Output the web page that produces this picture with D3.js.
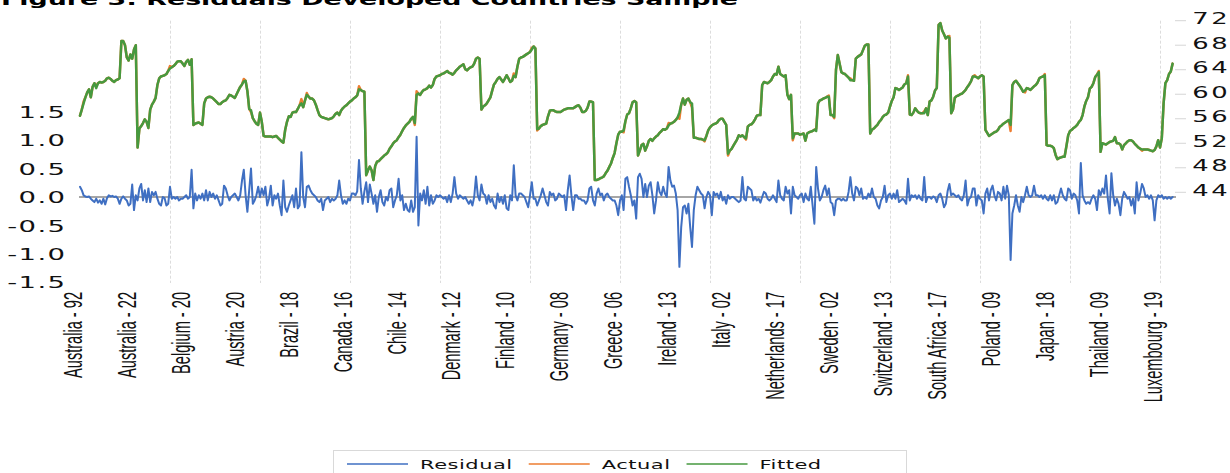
<!DOCTYPE html>
<html>
<head>
<meta charset="utf-8">
<script src="https://cdn.jsdelivr.net/npm/d3@7/dist/d3.min.js"></script>
<style>
  html, body { margin: 0; padding: 0; background: #ffffff; }
  svg { display: block; }
</style>
</head>
<body>
<svg id="chart" width="1230" height="473"></svg>
<script>
// ---------------------------------------------------------------
// Data: panel observations (country - year), one value per observation
// ---------------------------------------------------------------
const titleText = "Figure 3: Residuals Developed Countries Sample";

// category labels shown every 30 observations
const tickLabels = [
  "Australia - 92", "Australia - 22", "Belgium - 20", "Austria - 20", "Brazil - 18",
  "Canada - 16", "Chile - 14", "Denmark - 12", "Finland - 10", "Germany - 08",
  "Greece - 06", "Ireland - 13", "Italy - 02", "Netherlands - 17", "Sweden - 02",
  "Switzerland - 13", "South Africa - 17", "Poland - 09", "Japan - 18", "Thailand - 09",
  "Luxembourg - 19"
];
const labelStep = 30;
const gridStep = 50;

const seriesNames = ["Residual", "Actual", "Fitted"];
const seriesColors = ["#3f6fc2", "#ed7d31", "#46993f"];

const leftTicks = [-1.5, -1.0, -0.5, 0.0, 0.5, 1.0, 1.5];
const rightTicks = [44, 48, 52, 56, 60, 64, 68, 72];

const residual = [
  0.18, 0.12, 0.03, 0.01, 0.0, 0.01, -0.03, -0.06, -0.09, -0.03,
  -0.1, -0.06, -0.12, -0.03, -0.13, -0.02, 0.03, 0.01, 0.02, 0.0,
  0.01, -0.03, -0.12, -0.03, 0.01, -0.03, -0.06, -0.15, -0.12, 0.22,
  -0.23, 0.03,
  -0.06, 0.15, 0.23, -0.06, 0.12, -0.09, 0.15, -0.09, 0.09, 0.03,
  0.09, -0.03, -0.12, -0.15, 0.0, -0.02, -0.15, -0.12, 0.18, -0.03,
  0.0, -0.03, 0.0, -0.06, -0.03, -0.03, 0.0, 0.03, -0.03, 0.0, 0.48,
  -0.2, 0.06, -0.06, 0.03, -0.03, 0.06, -0.06, 0.12, -0.06, 0.09,
  0.0, 0.06, -0.03, 0.03, -0.06, -0.15, -0.12, 0.2, 0.15, 0.03,
  -0.06, 0.0, 0.03, 0.06, 0.0, -0.06, 0.03, 0.29, 0.48, 0.03,
  -0.26, 0.12, 0.5, -0.12, -0.06, 0.03, 0.18, 0.0, 0.15, 0.03,
  0.18, -0.15, -0.03, 0.2, -0.15, 0.03, -0.03, 0.06, -0.15, -0.32,
  0.29, -0.18, -0.26, -0.15, -0.06, 0.03, -0.18, 0.15, -0.2, -0.15,
  0.79, 0.0, -0.18, 0.18, 0.2, 0.12, 0.06, 0.03, 0.0, -0.06,
  -0.09, -0.03, -0.23, -0.06, -0.03, 0.0, -0.09, -0.03, -0.06, -0.03,
  0.03, 0.29, 0.03, -0.12, -0.06, -0.12, -0.03, -0.06, 0.06, 0.06,
  0.03, 0.1,
  0.65, 0.15, -0.12, 0.1, 0.26, -0.09, 0.22, 0.06, -0.12, 0.03,
  -0.26, 0.0, 0.12, -0.09, -0.15, 0.0, -0.06, 0.12, 0.15, -0.18,
  -0.06, 0.03, 0.32, -0.06, 0.03, -0.23, -0.12, -0.23, -0.26, -0.06,
  -0.26, -0.18, 1.06, -0.5, 0.06, -0.06, 0.12, -0.12, 0.18, -0.15,
  0.03, -0.12, -0.06, 0.03, 0.0, 0.03, 0.0, -0.03, 0.0, -0.09,
  0.03, -0.09, 0.06, 0.35, 0.06, -0.03, 0.03, 0.0, -0.03, 0.0,
  -0.06, -0.12, -0.06, -0.15, 0.0, 0.36, 0.03, -0.06, 0.22, 0.06,
  0.03, -0.12, 0.03, -0.09, -0.03, -0.15, -0.2, 0.06, -0.09, 0.0,
  -0.12, 0.03, -0.2, -0.23, 0.03, -0.06, 0.56, 0.03, -0.06, 0.06,
  0.06, 0.03, 0.0, -0.09, -0.18, 0.03, 0.26, -0.03, -0.03, -0.15,
  -0.06, 0.03, 0.15, 0.03, -0.09, -0.15, 0.09, 0.03, 0.06, -0.06,
  -0.03, 0.06, 0.03, 0.0, 0.03, -0.23, 0.12, 0.38, 0.03, -0.23,
  0.03, 0.03, -0.03, -0.03, -0.06, -0.06, -0.12, -0.06, 0.15, 0.18,
  -0.06, -0.15, 0.06, 0.15, 0.03, 0.06, -0.06, 0.03, 0.06, 0.0,
  -0.03, -0.06, -0.06, -0.15, -0.32, -0.06, 0.03, -0.23, 0.32,
  0.35, 0.18, 0.03, -0.15, -0.06, -0.38,
  0.35, 0.41, 0.32, 0.0, 0.23, 0.0, 0.2, 0.26, 0.03, -0.29,
  -0.06, 0.26, 0.09, 0.03, 0.18, 0.06, 0.0, 0.53, 0.29, 0.18,
  0.2, 0.06, -0.23, -1.23, -0.53, -0.18, -0.15, -0.29, -0.12, -0.53,
  -0.88, -0.23, 0.03, 0.18, 0.12, 0.06, 0.03, -0.2, 0.0, 0.09,
  0.03, -0.32, 0.09, 0.03, 0.06, -0.03, 0.09, -0.06, 0.0, -0.12,
  0.03, -0.03, 0.0, 0.0, -0.03, -0.06, -0.09, -0.06, 0.35, -0.03,
  -0.06, 0.18, 0.15, 0.12, -0.06, 0.0, -0.06, -0.03, -0.1, 0.0,
  0.09, 0.06, -0.03, -0.06, -0.03, 0.03, -0.03, -0.09, 0.29, 0.03,
  -0.03, -0.06, 0.18, 0.06, 0.12, -0.29, 0.18, 0.03, 0.0, -0.03,
  0.03, 0.06, -0.09, 0.06, -0.03, -0.06, 0.18, -0.15, -0.47, 0.53,
  0.15, -0.06, 0.0, 0.12, 0.2, 0.03, 0.15, -0.09, -0.12, -0.32,
  -0.06, -0.03, -0.03, -0.06, -0.03, -0.06, -0.06, 0.09, 0.35, 0.06,
  -0.06, 0.18, 0.15, 0.03, 0.15, -0.03, 0.0, -0.03, 0.06, 0.0,
  0.15, 0.0, -0.03, -0.15, -0.2, -0.06, 0.0, 0.2, -0.09, 0.03,
  0.06, -0.03, 0.06, -0.03, 0.12, -0.09, -0.06, -0.03, -0.06,
  -0.12, 0.32, -0.06, 0.03, 0.0, 0.03, -0.03, 0.03, -0.03, -0.06,
  0.35, -0.09, 0.0, 0.0, -0.03, 0.01, -0.01, -0.09, 0.03, 0.06,
  -0.03, -0.18, -0.12, 0.1, 0.23, 0.03, 0.06, 0.03, 0.0, 0.03,
  -0.03, -0.06, 0.03, 0.29, -0.15, -0.03, 0.0, 0.15, 0.15, -0.15,
  0.03, -0.03, -0.06, -0.29, 0.06, 0.15, -0.06, 0.12, 0.2, 0.03,
  -0.06, 0.09, 0.06, -0.06, 0.18, -0.03, 0.2, 0.03, -1.11, -0.29,
  -0.15, 0.03, -0.15, -0.26, 0.0, -0.09, 0.03, 0.18, 0.03, 0.0,
  0.03, 0.2, 0.03, 0.03, 0.0, 0.03, -0.03, 0.03, -0.03, -0.06,
  0.03, -0.06, 0.03, -0.12, -0.09, 0.03, 0.15, 0.03, -0.03, -0.06,
  0.15, 0.12, -0.03, 0.06, 0.03, -0.06, -0.29, 0.6, 0.03, -0.06,
  -0.12, -0.09, -0.12, -0.03, 0.03, -0.03, -0.23, 0.12, 0.03, 0.15,
  0.06, 0.38, -0.03, -0.29, 0.42, 0.03, -0.15, -0.03, -0.12, -0.32,
  -0.03, 0.09, 0.03, -0.03, 0.0, -0.15, -0.03, -0.29, 0.26, -0.06,
  0.06, 0.23, 0.15, 0.0, 0.03, -0.03, 0.03, -0.06, -0.41, -0.06,
  0.03, 0.0, 0.03, -0.03, 0.0, -0.03, 0.0, -0.03, 0.0
];

const fitted = [
  56.5, 57.5, 58.5, 59.5, 60.3, 60.8, 59.5, 61.2, 61.8, 61.0,
  61.8, 62.0, 61.9, 62.0, 62.2, 62.6, 62.7, 62.5, 62.2, 62.0,
  62.3, 62.4, 62.6, 68.7, 68.7, 68.0, 66.0, 65.5, 66.5, 65.8,
  67.3, 68.0,
  51.3, 54.4, 54.8, 55.3, 55.9, 55.5, 54.5, 57.5, 58.3, 58.8,
  59.4, 61.5, 62.6, 62.9, 63.0, 63.1, 63.3, 63.8, 64.2, 64.4,
  64.6, 64.9, 65.3, 65.4, 65.4, 65.0, 64.6, 65.3, 65.6, 64.8, 65.7,
  55.0, 55.2, 55.3, 55.4, 55.2, 55.0, 58.5, 59.3, 59.5, 59.6,
  59.5, 59.3, 59.0, 58.7, 58.4, 58.4, 58.7, 58.9, 59.0, 59.4,
  59.9, 59.8, 59.6, 59.4, 60.0, 60.6, 61.2, 61.6, 62.1, 62.2,
  60.5, 57.6, 57.4, 56.1, 55.6, 55.2, 55.0, 57.0, 55.5, 53.2,
  53.1, 53.1, 53.1, 53.1, 53.0, 53.1, 53.2, 52.9, 52.6, 52.3,
  52.1, 54.2, 55.5, 56.4, 56.3, 57.0, 57.1, 57.1, 57.6, 58.2,
  58.5, 57.9, 59.0, 59.9, 59.6, 59.3, 59.3, 59.0, 58.3, 57.4,
  56.6, 56.3, 56.2, 56.1, 56.0, 55.9, 56.0, 56.1, 56.4, 56.8,
  57.0, 56.6, 57.3, 57.7, 58.0, 58.2, 58.5, 58.8, 59.0, 59.3,
  59.5, 59.8,
  60.8, 60.7, 60.5, 60.4, 46.8, 47.6, 48.2, 47.6, 46.0, 48.3,
  49.0, 49.1, 49.4, 49.7, 50.0, 50.2, 50.5, 51.1, 51.5, 52.0,
  52.3, 52.5, 53.0, 53.4, 54.0, 54.5, 54.9, 55.2, 55.5, 56.0,
  56.3, 55.3, 59.9, 60.1, 59.9, 60.4, 60.7, 60.8, 61.0, 61.4,
  61.1, 61.5, 62.5, 62.9, 63.0, 63.1, 63.3, 63.4, 63.6, 63.8,
  63.5, 63.4, 63.2, 63.5, 63.9, 64.2, 64.5, 64.7, 64.9, 64.1,
  63.9, 64.2, 64.4, 64.5, 65.0, 65.8, 66.0, 65.8, 57.5, 58.0,
  58.2, 58.5, 59.0, 59.5, 60.6, 61.6, 62.0, 62.5, 62.8, 62.4,
  62.0, 62.5, 63.1, 62.6, 62.0, 62.2, 63.0, 62.8, 64.5, 65.8,
  66.0, 66.1, 66.3, 66.5, 66.7, 66.9, 67.3, 67.8, 67.5, 54.3,
  54.4, 54.8, 55.0, 55.1, 55.2, 56.4, 57.3, 57.4, 57.4, 57.2,
  57.1, 57.1, 57.1, 57.3, 57.5, 57.6, 57.7, 57.7, 57.7, 57.7,
  57.9, 58.1, 58.2, 57.8, 57.1, 57.1, 57.3, 57.8, 58.8, 58.8,
  58.7, 46.0, 46.0, 46.1, 46.3, 46.4, 46.6, 47.1, 47.5, 48.1,
  48.7, 49.6, 50.4, 52.0, 53.4, 53.9, 53.9, 54.1, 55.6,
  56.7, 56.9, 57.7, 58.7, 58.9, 58.7,
  50.0, 50.8, 51.7, 51.9, 50.8, 51.5, 52.4, 52.7, 52.4, 52.8,
  53.1, 53.3, 53.7, 54.0, 54.3, 54.2, 54.4, 54.9, 55.2, 55.3,
  55.5, 55.8, 56.2, 57.0, 58.3, 59.3, 58.3, 59.1, 59.3, 58.7,
  58.5, 52.9, 52.9, 52.8, 52.7, 52.7, 52.6, 52.5, 53.2, 54.1,
  54.6, 54.9, 55.1, 55.2, 55.4, 55.8, 56.0, 56.0, 55.5, 55.0,
  50.3, 50.8, 51.1, 51.6, 52.1, 52.6, 53.3, 53.1, 53.3, 53.0,
  52.8, 54.7, 55.0, 55.1, 55.4, 55.9, 56.5, 56.6, 56.6, 61.5,
  62.0, 61.9, 61.8, 62.0, 62.3, 62.9, 63.3, 63.2, 64.5, 63.3,
  63.1, 62.9, 63.1, 59.9, 59.2, 59.9, 52.8, 53.6, 53.6, 53.6,
  53.4, 53.5, 53.6, 52.4, 53.6, 53.8, 53.9, 54.0, 54.2, 54.0,
  58.5, 59.0, 59.1, 59.3, 59.4, 59.6, 59.6, 56.6, 56.6, 56.3,
  64.0, 66.4, 65.0, 63.6, 63.4, 63.3, 63.0, 62.7, 62.3, 62.3,
  62.2, 65.8, 66.1, 66.3, 66.5, 67.2, 67.9, 68.1, 68.1, 53.6,
  54.2, 54.4, 54.7, 55.0, 55.5, 55.8, 56.3, 56.6, 56.7, 57.0,
  58.0, 58.9, 59.5, 61.0, 60.9, 60.7, 60.9, 61.1, 61.6,
  61.8, 62.9, 56.7, 56.6, 57.0, 57.7, 57.3, 57.0, 56.9, 56.9,
  56.9, 57.7, 56.6, 58.8, 59.0, 59.6, 60.6, 61.0, 71.3, 71.6,
  70.4, 69.8, 69.1, 69.4, 69.2, 56.9, 57.5, 59.4, 59.7, 59.8,
  60.0, 60.1, 60.4, 60.7, 61.2, 61.6, 62.1, 62.9, 62.9, 62.8,
  62.6, 62.9, 63.1, 62.9, 54.2, 53.7, 53.2, 53.4, 53.6, 53.8,
  53.9, 54.2, 54.7, 54.9, 55.2, 55.4, 55.6, 55.8, 55.0, 61.5,
  62.0, 62.2, 61.8, 61.4, 60.9, 60.4, 60.6, 61.0, 60.9, 60.7,
  61.0, 61.3, 61.5, 61.9, 62.6, 62.8, 62.9, 63.1, 51.7, 51.6,
  51.6, 51.5, 51.2, 50.1, 49.4, 49.6, 49.7, 49.8, 49.8, 51.5,
  53.3, 54.0, 54.2, 54.5, 54.7, 55.0, 55.5, 55.8, 56.6, 58.0,
  58.9, 59.5, 60.9, 61.2, 61.8, 62.8, 63.2, 63.6, 50.6, 52.0,
  51.9, 51.8, 52.0, 52.2, 52.3, 52.4, 53.0, 52.0, 52.0, 51.8,
  51.0, 51.7, 52.0, 52.3, 52.5, 52.5, 52.3, 51.9, 51.6, 51.3,
  51.1, 51.0, 51.0, 51.0, 51.0, 50.9, 50.8, 50.7, 50.9, 51.5,
  52.5, 51.3, 52.8, 58.5, 61.8, 62.3, 63.3, 63.7, 65.0
];

const actual = [
  56.5, 57.5, 58.8, 59.5, 60.3, 60.8, 59.5, 61.2, 61.8, 61.3,
  61.8, 62.0, 61.9, 62.0, 62.2, 62.6, 62.7, 62.5, 62.2, 62.0,
  62.3, 62.4, 62.6, 68.7, 68.7, 68.0, 66.0, 65.5, 66.5, 65.8,
  67.3, 68.0,
  51.3, 54.4, 54.8, 55.3, 55.9, 55.5, 54.5, 57.5, 58.3, 58.8,
  59.4, 61.5, 62.6, 62.9, 63.0, 63.1, 63.3, 63.8, 64.6, 64.4,
  64.6, 64.9, 65.3, 65.4, 65.4, 65.0, 64.6, 65.3, 65.6, 64.8, 65.7,
  55.0, 55.2, 55.3, 55.4, 55.2, 55.0, 58.5, 59.3, 59.5, 59.6,
  59.5, 59.3, 59.0, 58.7, 58.4, 58.4, 58.7, 58.9, 59.0, 59.4,
  59.9, 59.8, 59.6, 59.4, 60.0, 60.6, 61.2, 61.6, 62.5, 62.2,
  60.5, 57.6, 57.1, 56.1, 55.6, 55.2, 55.0, 57.0, 55.5, 53.2,
  53.1, 53.1, 53.1, 53.1, 53.0, 53.1, 53.2, 52.9, 52.6, 52.3,
  52.1, 54.2, 55.5, 56.4, 56.3, 57.0, 57.1, 57.1, 57.6, 58.2,
  59.2, 57.9, 59.0, 60.2, 59.6, 59.3, 59.3, 59.0, 58.3, 57.4,
  56.6, 56.3, 56.2, 56.1, 56.0, 55.9, 56.0, 56.1, 56.4, 56.8,
  57.0, 56.6, 57.3, 57.7, 58.0, 58.2, 58.5, 58.8, 59.0, 59.3,
  59.5, 59.8,
  61.3, 60.7, 60.5, 60.4, 46.8, 47.6, 48.2, 47.6, 46.0, 48.3,
  49.0, 49.1, 49.4, 49.7, 50.0, 50.2, 50.5, 51.1, 51.5, 52.0,
  52.3, 52.5, 53.0, 53.4, 54.0, 54.5, 54.9, 55.2, 55.5, 56.0,
  56.3, 55.0, 60.5, 60.1, 59.9, 60.4, 60.7, 60.8, 61.0, 61.4,
  61.1, 61.5, 62.5, 62.9, 63.0, 63.1, 63.3, 63.4, 63.6, 63.8,
  63.5, 63.4, 63.2, 63.5, 63.9, 64.2, 64.5, 64.7, 64.9, 64.1,
  63.9, 64.2, 64.4, 64.5, 65.0, 65.8, 66.0, 65.8, 57.5, 58.0,
  58.2, 58.5, 59.0, 59.5, 60.6, 61.6, 62.0, 62.5, 62.8, 62.4,
  62.0, 62.5, 63.1, 62.6, 62.0, 62.2, 63.4, 62.8, 64.5, 65.8,
  66.0, 66.1, 66.3, 66.5, 66.7, 66.9, 67.6, 67.8, 67.5, 54.1,
  54.4, 54.8, 55.0, 55.1, 55.2, 56.4, 57.3, 57.4, 57.4, 57.2,
  57.1, 57.1, 57.1, 57.3, 57.5, 57.6, 57.7, 57.7, 57.7, 57.7,
  57.9, 58.1, 58.2, 57.8, 57.1, 57.1, 57.3, 57.8, 58.8, 58.8,
  58.7, 46.0, 46.0, 46.1, 46.3, 46.4, 46.6, 47.1, 47.5, 48.1,
  48.7, 49.6, 50.4, 52.0, 53.4, 53.9, 53.9, 53.8, 55.6,
  56.7, 56.9, 57.7, 58.7, 58.9, 58.7,
  50.0, 50.8, 51.7, 51.9, 50.8, 51.5, 52.4, 52.7, 52.4, 52.8,
  53.1, 53.3, 53.7, 54.0, 54.3, 54.2, 54.4, 55.3, 55.2, 55.3,
  55.5, 55.8, 56.2, 56.0, 58.3, 59.3, 58.3, 59.1, 59.3, 58.7,
  57.8, 52.9, 52.9, 52.8, 52.7, 52.7, 52.6, 52.3, 53.2, 54.1,
  54.6, 54.9, 55.1, 55.2, 55.4, 55.8, 56.0, 56.0, 55.5, 55.0,
  50.0, 50.8, 51.1, 51.6, 52.1, 52.6, 53.3, 53.1, 53.3, 53.0,
  52.6, 54.7, 55.0, 55.1, 55.4, 55.9, 56.5, 56.6, 56.6, 61.5,
  62.0, 61.9, 61.8, 62.0, 62.3, 62.9, 63.3, 63.2, 64.5, 63.3,
  63.1, 62.9, 63.1, 59.9, 59.2, 59.9, 52.5, 53.6, 53.6, 53.6,
  53.4, 53.5, 53.6, 52.4, 53.6, 53.8, 53.9, 54.0, 54.2, 54.4,
  58.5, 59.0, 59.1, 59.3, 59.4, 59.6, 59.8, 56.6, 56.6, 56.1,
  64.0, 66.4, 65.0, 63.6, 63.4, 63.3, 63.0, 62.7, 62.6, 62.3,
  62.2, 65.8, 66.1, 66.3, 66.5, 67.2, 67.9, 68.1, 68.1, 53.6,
  54.2, 54.4, 54.7, 55.0, 55.5, 55.8, 56.3, 56.6, 56.7, 57.0,
  58.0, 58.9, 59.5, 61.0, 60.9, 60.7, 60.9, 61.1, 61.6,
  61.8, 63.1, 56.7, 56.6, 57.0, 57.7, 57.3, 57.0, 56.9, 56.9,
  57.2, 57.7, 56.6, 58.8, 59.0, 59.6, 60.6, 61.0, 71.3, 71.6,
  70.4, 69.8, 69.1, 69.4, 69.5, 56.9, 57.5, 59.4, 59.7, 59.8,
  60.0, 60.1, 60.4, 60.7, 61.2, 61.6, 62.1, 62.9, 63.1, 62.8,
  62.6, 62.9, 63.1, 62.9, 54.2, 53.7, 53.2, 53.4, 53.6, 53.8,
  53.9, 54.2, 54.7, 54.9, 55.2, 55.4, 55.6, 55.8, 54.0, 61.5,
  62.0, 62.2, 61.8, 61.4, 60.9, 60.4, 60.3, 61.0, 60.9, 60.7,
  61.0, 61.3, 61.5, 61.9, 62.6, 62.8, 62.9, 63.3, 51.7, 51.6,
  51.6, 51.5, 51.2, 50.1, 49.4, 49.6, 49.7, 49.8, 49.8, 51.5,
  53.3, 54.0, 54.2, 54.5, 54.7, 55.0, 55.5, 55.8, 56.6, 58.0,
  58.9, 59.5, 60.9, 61.2, 61.8, 62.8, 63.2, 63.8, 50.6, 52.0,
  51.9, 51.8, 52.0, 52.2, 52.3, 52.4, 53.0, 52.0, 52.0, 51.8,
  51.0, 51.7, 52.0, 52.3, 52.5, 52.5, 52.3, 51.9, 51.6, 51.3,
  51.1, 50.8, 51.0, 51.0, 51.0, 50.9, 50.8, 50.7, 50.9, 51.5,
  52.5, 51.3, 52.8, 58.5, 61.8, 62.3, 63.3, 63.7, 65.0
];

// ---------------------------------------------------------------
// Layout
// ---------------------------------------------------------------
const svg = d3.select("#chart");
const W = 1230, H = 473;
const plot = { left: 80, right: 1172.6, top: 20.7, bottom: 283 };
const stretch = 1.72;           // horizontal text stretch used throughout
const n = fitted.length;

const x = d3.scaleLinear().domain([0, n - 1]).range([plot.left, plot.right]);
const yLeft = d3.scaleLinear().domain([-1.5, 1.5]).range([282.2, 111.8]);
const yRight = d3.scaleLinear().domain([44, 72]).range([192.3, 20.7]);

svg.append("rect").attr("width", W).attr("height", H).attr("fill", "#ffffff");

// Title (partly above the top edge)
svg.append("text")
  .attr("transform", `translate(1,4.5) scale(${stretch},1)`)
  .attr("font-family", "DejaVu Sans, Verdana, sans-serif")
  .attr("font-weight", "bold")
  .attr("font-size", 15.6)
  .attr("fill", "#000")
  .text(titleText);

// Vertical dashed gridlines between groups of observations
const gridIdx = d3.range(gridStep, n, gridStep);
svg.append("g").selectAll("line")
  .data(gridIdx)
  .join("line")
  .attr("x1", d => Math.round(x(d)) + 0.5)
  .attr("x2", d => Math.round(x(d)) + 0.5)
  .attr("y1", plot.top)
  .attr("y2", plot.bottom)
  .attr("stroke", "#dcdcdc")
  .attr("stroke-width", 1)
  .attr("stroke-dasharray", "3,2");

// Zero line of the residual axis
svg.append("line")
  .attr("x1", 79).attr("x2", 1176)
  .attr("y1", yLeft(0)).attr("y2", yLeft(0))
  .attr("stroke", "#a6a6a6")
  .attr("stroke-width", 2);

// Left axis (residuals); plain hyphen for negatives
const leftAxis = d3.axisLeft(yLeft).tickValues(leftTicks).tickSize(0).tickFormat(d => d.toFixed(1));
const gL = svg.append("g").attr("transform", "translate(66.5,0)").call(leftAxis);
gL.select(".domain").remove();
gL.selectAll("text")
  .attr("x", 0)
  .attr("dy", "0.36em")
  .attr("text-anchor", "end")
  .attr("transform", `scale(${stretch},1)`)
  .attr("font-family", "DejaVu Sans, Verdana, sans-serif")
  .attr("font-size", 16)
  .attr("letter-spacing", 0.8)
  .attr("fill", "#111");

// Right axis (actual / fitted)
const rightAxis = d3.axisRight(yRight).tickValues(rightTicks).tickSize(0).tickFormat(d3.format("d"));
const gR = svg.append("g").attr("transform", "translate(1193,0)").call(rightAxis);
gR.select(".domain").remove();
gR.selectAll("text")
  .attr("x", -0.5)
  .attr("dy", "0.36em")
  .attr("y", -2.4)
  .attr("text-anchor", "start")
  .attr("transform", `scale(${stretch},1)`)
  .attr("font-family", "DejaVu Sans, Verdana, sans-serif")
  .attr("font-size", 15)
  .attr("letter-spacing", 1.6)
  .attr("fill", "#111");
svg.append("g").selectAll("line")
  .data(rightTicks)
  .join("line")
  .attr("x1", 1175).attr("x2", 1186)
  .attr("y1", d => yRight(d)).attr("y2", d => yRight(d))
  .attr("stroke", "#d6d6d6")
  .attr("stroke-width", 1);

// Category labels, rotated, every labelStep observations
svg.append("g").selectAll("text")
  .data(tickLabels)
  .join("text")
  .attr("transform", (d, i) => `translate(${x(i * labelStep) + 1.8},292) scale(${stretch + 0.05},1) rotate(-90)`)
  .attr("text-anchor", "end")
  .attr("font-family", "Liberation Sans, Arial, sans-serif")
  .attr("font-size", 14.6)
  .attr("fill", "#111")
  .text(d => d);

// Series lines
const seriesData = [
  { name: seriesNames[1], values: actual, y: yRight, color: seriesColors[1], width: 2.5 },
  { name: seriesNames[2], values: fitted, y: yRight, color: seriesColors[2], width: 2.5 },
  { name: seriesNames[0], values: residual, y: yLeft, color: seriesColors[0], width: 2 }
];
seriesData.forEach(s => {
  const line = d3.line().x((d, i) => x(i)).y(d => s.y(d));
  svg.append("path")
    .datum(s.values)
    .attr("d", line)
    .attr("fill", "none")
    .attr("stroke", s.color)
    .attr("stroke-width", s.width)
    .attr("stroke-linejoin", "round")
    .attr("stroke-linecap", "round");
});

// Legend
const legend = svg.append("g");
legend.append("rect")
  .attr("x", 333.5).attr("y", 450.5)
  .attr("width", 573).attr("height", 40)
  .attr("fill", "#ffffff")
  .attr("stroke", "#d9d9d9")
  .attr("stroke-width", 1);
let lx = 347;
seriesNames.forEach((name, i) => {
  legend.append("line")
    .attr("x1", lx).attr("x2", lx + 61)
    .attr("y1", 464).attr("y2", 464)
    .attr("stroke", seriesColors[i])
    .attr("stroke-width", 1.5);
  const t = legend.append("text")
    .attr("transform", `translate(${lx + 73},468.5) scale(${stretch},1)`)
    .attr("font-family", "DejaVu Sans, Verdana, sans-serif")
    .attr("font-size", 12.2)
    .attr("letter-spacing", 0.3)
    .attr("fill", "#111")
    .text(name);
  const w = t.node().getComputedTextLength() * stretch;
  lx += 73 + w + 16;
});
</script>
</body>
</html>
